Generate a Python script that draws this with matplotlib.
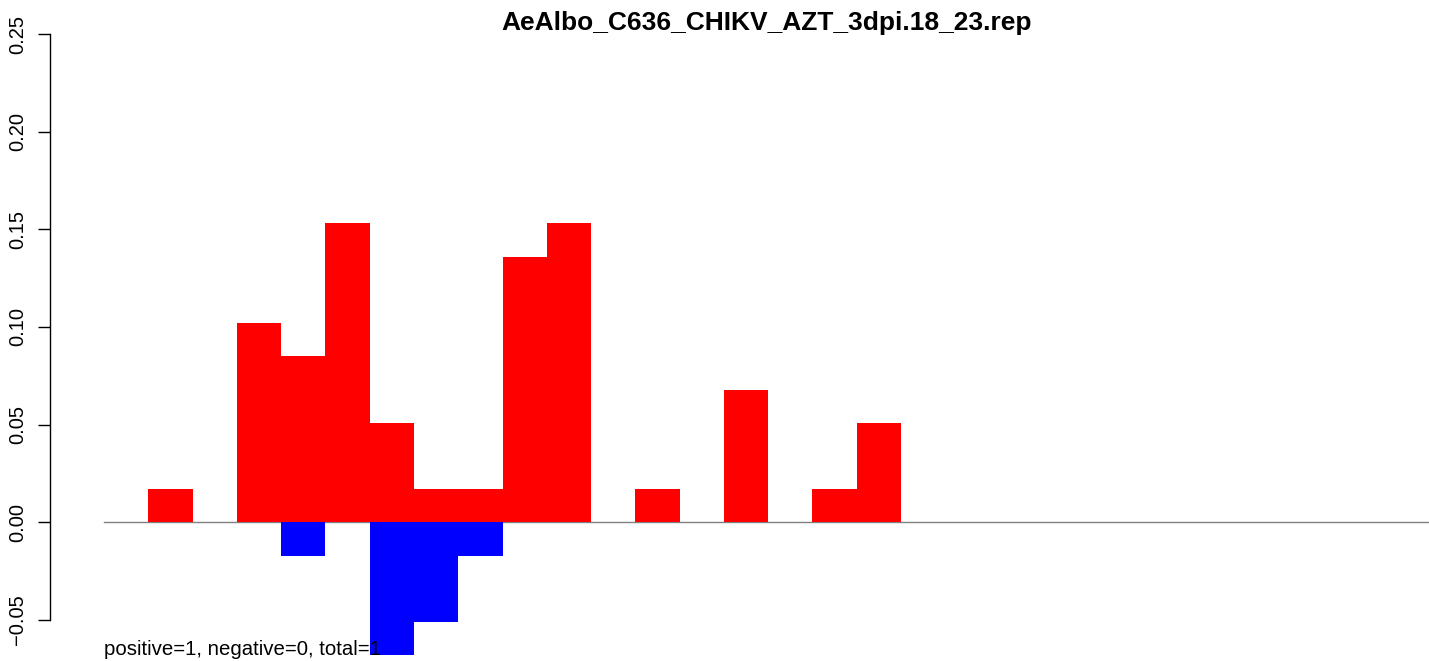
import numpy as np
import matplotlib
matplotlib.use("Agg")
import matplotlib.pyplot as plt

plt.rcParams["font.family"] = ["Liberation Sans", "DejaVu Sans"]

title = "AeAlbo_C636_CHIKV_AZT_3dpi.18_23.rep"
n_bins = 30
pos_idx = [1, 3, 4, 5, 6, 7, 8, 9, 10, 12, 14, 16, 17]
pos_val = [0.017, 0.102, 0.085, 0.153, 0.051, 0.017, 0.017, 0.136, 0.153, 0.017, 0.068, 0.017, 0.051]
neg_idx = [4, 6, 7, 8]
neg_val = [-0.017, -0.068, -0.051, -0.017]
y_ticks = [-0.05, 0.00, 0.05, 0.10, 0.15, 0.20, 0.25]
note = "positive=1, negative=0, total=1"

W, H = 1429, 661
fig = plt.figure(figsize=(W / 100, H / 100), dpi=100)
ax = fig.add_axes([50 / W, 0, 1 - 50 / W, 1])

# pixel mapping: 0.25 at y=34, -0.05 at y=620
ppu = (620 - 34) / 0.30
y_top = 0.25 + 34 / ppu
y_bot = -0.05 - (H - 620) / ppu
bw = (901 - 104) / 18
ax.set_xlim(-54 / bw, (W - 104) / bw)
ax.set_ylim(y_bot, y_top)

ax.plot([0, n_bins], [0, 0], color="#808080", lw=1.0, zorder=1)
ax.bar(pos_idx, pos_val, width=1, align="edge", color="#FF0000", linewidth=0, zorder=2)
ax.bar(neg_idx, neg_val, width=1, align="edge", color="#0000FF", linewidth=0, zorder=2)

for s in ["top", "right", "bottom"]:
    ax.spines[s].set_visible(False)
ax.spines["left"].set_bounds(-0.05, 0.25)
ax.spines["left"].set_linewidth(1.0)
ax.set_xticks([])
ax.set_yticks(y_ticks)
ax.set_yticklabels([f"{t:.2f}".replace("-", "\u2212") for t in y_ticks],
                   rotation=90, va="center", fontsize=14.5)
ax.tick_params(axis="y", length=8.6, width=1.0, pad=8)
ax.patch.set_alpha(0)

ax.text(0, -0.068, note, fontsize=14.7, ha="left", va="baseline", zorder=3)
fig.text(767 / W, 1 - 23 / H, title, ha="center", va="center",
         fontsize=19, fontweight="bold")

fig.savefig("out.png", dpi=100)
